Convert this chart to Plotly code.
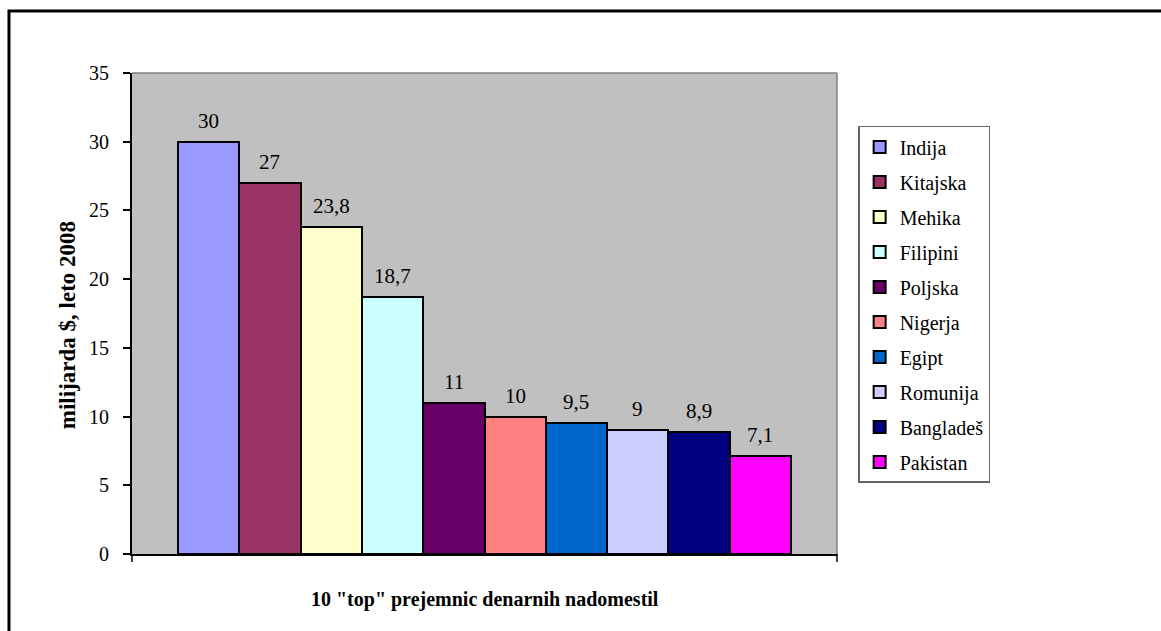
import plotly.graph_objects as go

# Top 10 remittance recipients, 2008 (billion $)
countries = ["Indija", "Kitajska", "Mehika", "Filipini", "Poljska",
             "Nigerja", "Egipt", "Romunija", "Bangladeš", "Pakistan"]
values = [30, 27, 23.8, 18.7, 11, 10, 9.5, 9, 8.9, 7.1]
value_labels = ["30", "27", "23,8", "18,7", "11", "10", "9,5", "9", "8,9", "7,1"]
colors = ["#9999FF", "#993366", "#FFFFCC", "#CCFFFF", "#660066",
          "#FF8080", "#0066CC", "#CCCCFF", "#000080", "#FF00FF"]

y_ticks = [0, 5, 10, 15, 20, 25, 30, 35]

SERIF = "Liberation Serif"

fig = go.Figure()
for name, val, col in zip(countries, values, colors):
    fig.add_trace(go.Bar(
        x=[name], y=[val], name=name, legendgroup=name,
        marker=dict(color=col, line=dict(color="black", width=2)),
        hoverinfo="x+y",
    ))

# value labels above each bar
for name, val, lab in zip(countries, values, value_labels):
    fig.add_annotation(x=name, y=val, text=lab, showarrow=False,
                       yanchor="middle", yshift=21,
                       font=dict(family=SERIF, size=21, color="black"))

fig.update_layout(
    width=1161, height=631,
    margin=dict(l=132, r=324, t=73, b=77),
    paper_bgcolor="white", plot_bgcolor="#C0C0C0",
    barmode="overlay", bargap=0,
    font=dict(family=SERIF, color="black"),
    showlegend=True,
    legend=dict(
        x=1.03, y=0.89, xanchor="left", yanchor="top",
        bordercolor="#666666", borderwidth=1.5, bgcolor="white",
        font=dict(family=SERIF, size=20, color="black"),
        traceorder="grouped", tracegroupgap=6,
        itemclick=False, itemdoubleclick=False,
    ),
    xaxis=dict(
        type="category", range=[-1.25, 10.25],
        showticklabels=False, ticks="", showgrid=False, zeroline=False,
        showline=True, linecolor="black", linewidth=2,
        fixedrange=True,
    ),
    yaxis=dict(
        range=[0, 35], tickvals=y_ticks, ticktext=[str(t) for t in y_ticks],
        ticks="outside", ticklen=7, tickwidth=1.5, tickcolor="black",
        ticklabelstandoff=10,
        tickfont=dict(family=SERIF, size=20, color="black"),
        showgrid=False, zeroline=False,
        showline=True, linecolor="black", linewidth=2,
        fixedrange=True,
    ),
)

# axis titles
fig.add_annotation(xref="paper", yref="paper", x=-0.092, y=0.476,
                   text="<b>milijarda $, leto 2008</b>", textangle=-90,
                   showarrow=False, xanchor="center", yanchor="middle",
                   font=dict(family=SERIF, size=23, color="black"))
fig.add_annotation(xref="paper", yref="paper", x=0.5, y=-0.0936,
                   text='<b>10 "top" prejemnic denarnih nadomestil</b>',
                   showarrow=False, xanchor="center", yanchor="middle",
                   font=dict(family=SERIF, size=20, color="black"))

# grey frame on top and right of the plot area
fig.add_shape(type="line", xref="paper", yref="paper", x0=0, x1=1, y0=1, y1=1,
              line=dict(color="#808080", width=1.5))
fig.add_shape(type="line", xref="paper", yref="paper", x0=1, x1=1, y0=0, y1=1,
              line=dict(color="#808080", width=1.5))
# end ticks of the category axis
for xp in (0, 1):
    fig.add_shape(type="line", xref="paper", yref="paper",
                  ysizemode="pixel", yanchor=0, x0=xp, x1=xp, y0=0, y1=-8,
                  line=dict(color="black", width=1.5))
# outer chart border
fig.add_shape(type="rect", xref="paper", yref="paper",
              x0=-0.1745, x1=1.48, y0=-0.19, y1=1.1289,
              line=dict(color="black", width=3), fillcolor="rgba(0,0,0,0)")

fig.write_html("out.html", config={"displayModeBar": False})
